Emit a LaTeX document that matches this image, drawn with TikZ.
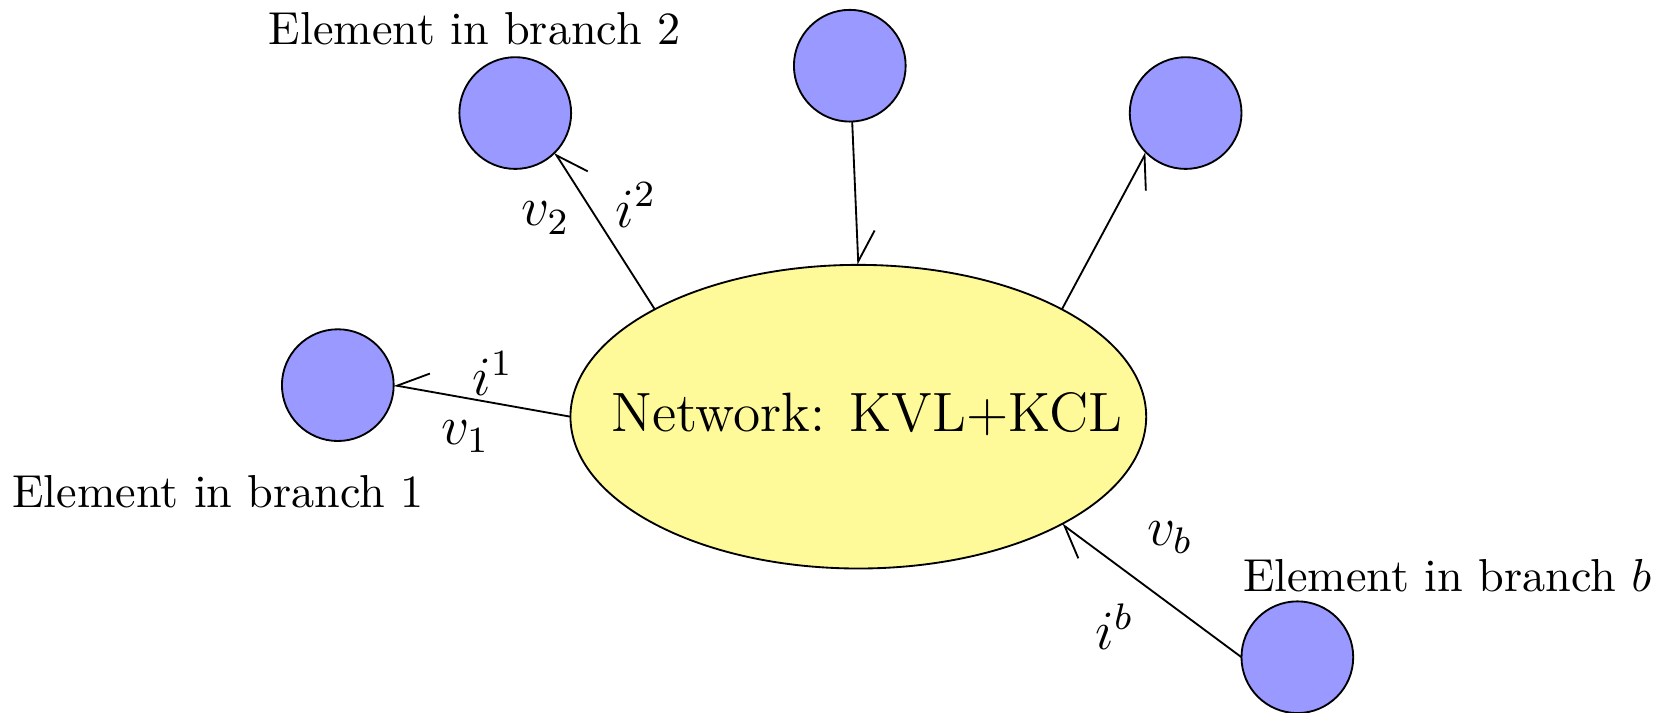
\documentclass[tikz,border=0pt]{standalone}
\usetikzlibrary{shapes.geometric,arrows.meta}
\tikzset{
  elem/.style={circle, draw, fill=blue!40, minimum size=0.85cm, inner sep=0pt, outer sep=0pt},
  netw/.style={ellipse, draw, fill=yellow!40, minimum width=4.38cm, minimum height=2.31cm, inner sep=0pt, outer sep=0pt},
  barbR/.style={-{Straight Barb[right, length=0.23cm, width=0.27cm]}},
  barbL/.style={-{Straight Barb[left, length=0.23cm, width=0.27cm]}},
  lab/.style={font=\large}
}
\begin{document}
\begin{tikzpicture}
        \useasboundingbox (-6.53, -2.25) rectangle (6.19, 3.17);
        % the network in the middle
        \node[netw] (net) at (0, 0) {};
        \node[lab] (nettxt) at (0.065, 0.02) {Network: KVL+KCL};
        \coordinate (nw) at (135:2.19cm and 1.155cm);
        \coordinate (ne) at (45:2.19cm and 1.155cm);
        \coordinate (se) at (-45:2.19cm and 1.155cm);
        % branch elements
        \node[elem] (e1) at (-3.96, 0.24) {};
        \node[elem] (e2) at (-2.61, 2.31) {};
        \node[elem] (e3) at (-0.065, 2.67) {};
        \node[elem] (e4) at (2.49, 2.31) {};
        \node[elem] (eb) at (3.34, -1.83) {};
        \node (t1) at (-4.87, -0.57) {Element in branch 1};
        \node (t2) at (-2.92, 2.95) {Element in branch 2};
        \node (tb) at (4.48, -1.21) {Element in branch $b$};
        % branch wires
        \draw[barbR] (net.west) -- (e1.east);
        \draw[barbR] (nw) -- (e2.south east);
        \draw[barbL] (e3) -- (net.north);
        \draw[barbR] (ne) -- (e4.south west);
        \draw[barbL] (eb.west) -- (se);
        % currents and voltages
        \node[lab] (i1) at (-2.78, 0.33) {$i^1$};
        \node[lab] (v1) at (-2.99, -0.15) {$v_1$};
        \node[lab] (v2) at (-2.38, 1.51) {$v_2$};
        \node[lab] (i2) at (-1.69, 1.61) {$i^2$};
        \node[lab] (vb) at (2.37, -0.92) {$v_b$};
        \node[lab] (ib) at (1.95, -1.60) {$i^b$};
    \end{tikzpicture}
\end{document}
